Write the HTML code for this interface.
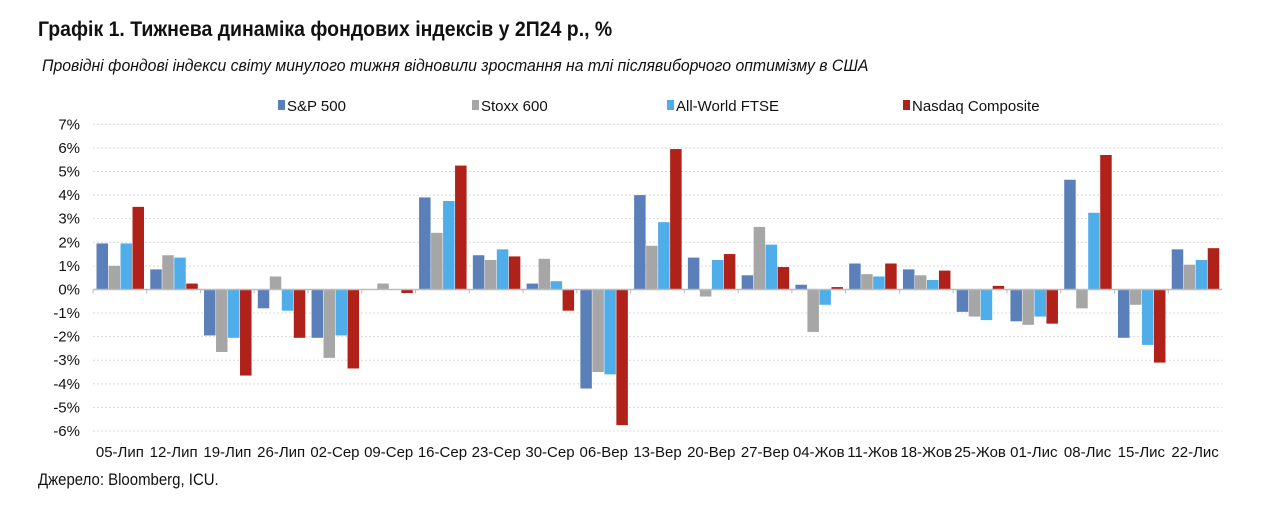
<!DOCTYPE html>
<html><head><meta charset="utf-8">
<style>
body{margin:0;background:#fff;width:1280px;height:514px;overflow:hidden;font-family:"Liberation Sans Narrow","Liberation Sans",sans-serif;}
#title{position:absolute;left:38px;top:18px;font-size:21px;font-weight:bold;color:#111;white-space:nowrap;transform:scaleX(0.927);transform-origin:0 0}
#sub{position:absolute;left:42px;top:56px;font-size:17px;font-style:italic;color:#111;white-space:nowrap;transform:scaleX(0.929);transform-origin:0 0}
#src{position:absolute;left:38px;top:470px;font-size:17px;color:#111;white-space:nowrap;transform:scaleX(0.88);transform-origin:0 0}
svg{position:absolute;left:0;top:0}
</style></head><body>
<div id="title">Графік 1. Тижнева динаміка фондових індексів у 2П24 р., %</div>
<div id="sub">Провідні фондові індекси світу минулого тижня відновили зростання на тлі післявиборчого оптимізму в США</div>
<div id="src">Джерело: Bloomberg, ICU.</div>
<svg id="chart" width="1280" height="514"></svg>
<script>
const categories=["05-Лип","12-Лип","19-Лип","26-Лип","02-Сер","09-Сер","16-Сер","23-Сер","30-Сер","06-Вер","13-Вер","20-Вер","27-Вер","04-Жов","11-Жов","18-Жов","25-Жов","01-Лис","08-Лис","15-Лис","22-Лис"];
const seriesNames=["S&P 500","Stoxx 600","All-World FTSE","Nasdaq Composite"];
const sp500=[1.95,0.85,-1.95,-0.8,-2.05,0,3.9,1.45,0.25,-4.2,4.0,1.35,0.6,0.2,1.1,0.85,-0.95,-1.35,4.65,-2.05,1.7];
const stoxx600=[1.0,1.45,-2.65,0.55,-2.9,0.25,2.4,1.25,1.3,-3.5,1.85,-0.3,2.65,-1.8,0.65,0.6,-1.15,-1.5,-0.8,-0.65,1.05];
const ftse=[1.95,1.35,-2.05,-0.9,-1.95,0,3.75,1.7,0.35,-3.6,2.85,1.25,1.9,-0.65,0.55,0.4,-1.3,-1.15,3.25,-2.35,1.25];
const nasdaq=[3.5,0.25,-3.65,-2.05,-3.35,-0.15,5.25,1.4,-0.9,-5.75,5.95,1.5,0.95,0.1,1.1,0.8,0.15,-1.45,5.7,-3.1,1.75];
const yTicks=[7,6,5,4,3,2,1,0,-1,-2,-3,-4,-5,-6];
const colors=["#5b80b9","#a6a6a6","#4fadea","#b0211a"];
const svg=document.getElementById('chart');
const NS="http://www.w3.org/2000/svg";
const x0=93,x1=1222,yTop=124.3,yBot=431;
const y=v=>yTop+(7-v)*(yBot-yTop)/13;
const bandW=(x1-x0)/categories.length;
function mk(t,a){const e=document.createElementNS(NS,t);for(const k in a)e.setAttribute(k,a[k]);svg.appendChild(e);return e;}
yTicks.forEach(t=>{
  if(t!==0){const g=mk('line',{x1:x0,x2:x1,y1:y(t),y2:y(t),stroke:'#d9d9d9','stroke-dasharray':'2,2'});
  
  }
  const l=mk('text',{x:80,y:y(t)+5,'text-anchor':'end','font-size':15,fill:'#111'});
  l.textContent=t+'%';
  
  
});
const all=[sp500,stoxx600,ftse,nasdaq];
categories.forEach((c,i)=>{
  const bx=x0+i*bandW;
  all.forEach((s,j)=>{
    const v=s[i];const yy=Math.min(y(v),y(0));const h=Math.abs(y(v)-y(0));
    const r=mk('rect',{x:bx+3.5+j*12,y:yy,width:11.5,height:Math.max(h,0.01),fill:colors[j]});
    
    
  });
  const tk=mk('line',{x1:bx,x2:bx,y1:y(0),y2:y(0)+4,stroke:'#bbb'});
  
  
  const lb=mk('text',{x:bx+bandW/2,y:457,'text-anchor':'middle','font-size':15,fill:'#111'});
  lb.textContent=c;
  
  
});
const ax=mk('line',{x1:x0,x2:x1,y1:y(0),y2:y(0),stroke:'#bbb','stroke-width':1.5});


const legX=[278,472,667,903];
seriesNames.forEach((n,j)=>{
  const r=mk('rect',{x:legX[j],y:100,width:7,height:10,fill:colors[j]});
  
  
  const t=mk('text',{x:legX[j]+9,y:111,'font-size':15,fill:'#111'});
  t.textContent=n;
  
  
});
</script>
</body></html>
